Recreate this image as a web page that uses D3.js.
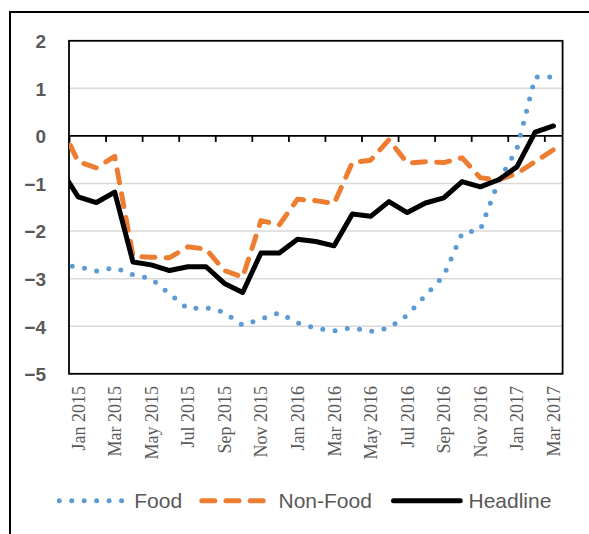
<!DOCTYPE html>
<html>
<head>
<meta charset="utf-8">
<script src="https://cdn.jsdelivr.net/npm/d3@7"></script>
<style>
  html, body { margin: 0; padding: 0; background: #fff; }
  svg { display: block; }
</style>
</head>
<body>
<svg id="chart" width="589" height="534"></svg>
<script>
// Monthly price change (%), Dec 2014 – Mar 2017
const months = [
  "Dec 2014",
  "Jan 2015", "Feb 2015", "Mar 2015", "Apr 2015", "May 2015", "Jun 2015",
  "Jul 2015", "Aug 2015", "Sep 2015", "Oct 2015", "Nov 2015", "Dec 2015",
  "Jan 2016", "Feb 2016", "Mar 2016", "Apr 2016", "May 2016", "Jun 2016",
  "Jul 2016", "Aug 2016", "Sep 2016", "Oct 2016", "Nov 2016", "Dec 2016",
  "Jan 2017", "Feb 2017", "Mar 2017"
];

const food = [
  -2.71,
  -2.75, -2.84, -2.77, -2.92, -3.00, -3.32,
  -3.63, -3.61, -3.71, -3.98, -3.85, -3.72,
  -3.93, -4.04, -4.10, -4.03, -4.11, -4.04,
  -3.77, -3.35, -2.94, -2.05, -1.97, -0.95,
  -0.28, 1.24, 1.24
];

const nonFood = [
  0.26,
  -0.54, -0.67, -0.43, -2.53, -2.55, -2.56,
  -2.33, -2.38, -2.83, -2.97, -1.78, -1.87,
  -1.33, -1.36, -1.42, -0.56, -0.51, -0.08,
  -0.57, -0.54, -0.56, -0.46, -0.88, -0.92,
  -0.79, -0.54, -0.29
];

const headline = [
  -0.67,
  -1.28, -1.40, -1.18, -2.65, -2.71, -2.83,
  -2.75, -2.75, -3.10, -3.29, -2.46, -2.46,
  -2.17, -2.22, -2.31, -1.64, -1.69, -1.38,
  -1.61, -1.41, -1.30, -0.96, -1.07, -0.92,
  -0.65, 0.08, 0.21
];

const yTicks = [2, 1, 0, -1, -2, -3, -4, -5];
const legendLabels = ["Food", "Non-Food", "Headline"];

// ---- layout ----
const W = 589, H = 534;
const plot = { left: 69, right: 562.6, top: 40.8, bottom: 373.8 };
const firstShown = 1;                       // Jan 2015 is the first month on the axis
const nShown = months.length - firstShown;  // 27 months

const svg = d3.select("#chart");

// outer frame of the chart object
svg.append("rect")
  .attr("x", 10).attr("y", 12)
  .attr("width", 600).attr("height", 540)
  .attr("fill", "#fff")
  .attr("stroke", "#000").attr("stroke-width", 2);

// x: month index, each month centred in its own slot
const x = d3.scaleLinear()
  .domain([firstShown - 0.5, months.length - 0.5])
  .range([plot.left, plot.right]);

const y = d3.scaleLinear()
  .domain([-5, 2])
  .range([plot.bottom, plot.top]);

// gridlines
svg.append("g")
  .selectAll("line")
  .data(yTicks.filter(v => v !== 2 && v !== -5 && v !== 0))
  .join("line")
  .attr("x1", plot.left).attr("x2", plot.right)
  .attr("y1", d => y(d)).attr("y2", d => y(d))
  .attr("stroke", "#d9d9d9").attr("stroke-width", 1.5);

// y axis labels
const yAxis = d3.axisLeft(y)
  .tickValues(yTicks)
  .tickSize(0)
  .tickPadding(0)
  .tickFormat(d3.format("d"));

const gy = svg.append("g")
  .attr("transform", `translate(${plot.left - 23},0)`)
  .call(yAxis);
gy.select(".domain").remove();
gy.selectAll("text")
  .attr("x", 0)
  .attr("dy", "0.36em")
  .attr("fill", "#595959")
  .style("font-family", "'Liberation Sans', Arial, sans-serif")
  .style("font-weight", "bold")
  .style("font-size", "19px");

// category axis on the zero line: tick marks every two months
const boundaryTicks = d3.range(firstShown - 0.5, months.length - 0.5, 2);
const xAxis = d3.axisBottom(x)
  .tickValues(boundaryTicks)
  .tickSize(6)
  .tickFormat("");
const gx = svg.append("g")
  .attr("transform", `translate(0,${y(0)})`)
  .call(xAxis);
gx.select(".domain")
  .attr("stroke", "#000").attr("stroke-width", 1.8)
  .attr("d", `M${plot.left},0H${plot.right}`);
gx.selectAll(".tick line").attr("stroke", "#000").attr("stroke-width", 1.8);

// month labels every other month, rotated
const labelIdx = d3.range(firstShown, months.length, 2);
svg.append("g")
  .selectAll("text")
  .data(labelIdx)
  .join("text")
  .attr("transform", i => `translate(${x(i) + 6.5},386) rotate(-90)`)
  .attr("text-anchor", "end")
  .attr("fill", "#595959")
  .style("font-family", "'Liberation Serif', 'Times New Roman', serif")
  .style("font-size", "18px")
  .text(i => months[i]);

// plot frame
svg.append("rect")
  .attr("x", plot.left).attr("y", plot.top)
  .attr("width", plot.right - plot.left)
  .attr("height", plot.bottom - plot.top)
  .attr("fill", "none")
  .attr("stroke", "#000").attr("stroke-width", 1.8);

// series lines, clipped to the plot area
svg.append("clipPath").attr("id", "plot-clip")
  .append("rect")
  .attr("x", plot.left).attr("y", plot.top - 10)
  .attr("width", plot.right - plot.left)
  .attr("height", plot.bottom - plot.top + 10);

const line = d3.line()
  .x((d, i) => x(i))
  .y(d => y(d));

const series = [
  { name: legendLabels[0], values: food, color: "#5b9bd5", width: 5, dash: "0,12.45" },
  { name: legendLabels[1], values: nonFood, color: "#ed7d31", width: 5, dash: "13,11.2" },
  { name: legendLabels[2], values: headline, color: "#000000", width: 5, dash: null }
];

const gLines = svg.append("g").attr("clip-path", "url(#plot-clip)");
series.forEach(s => {
  gLines.append("path")
    .datum(s.values)
    .attr("d", line)
    .attr("fill", "none")
    .attr("stroke", s.color)
    .attr("stroke-width", s.width)
    .attr("stroke-linecap", "round")
    .attr("stroke-linejoin", "round")
    .attr("stroke-dasharray", s.dash);
});

// legend
const legendY = 500.7;
const legendItems = [
  { s: series[0], x1: 59.3, x2: 121.8, tx: 134.3 },
  { s: series[1], x1: 201.8, x2: 263.5, tx: 278.5 },
  { s: series[2], x1: 393.5, x2: 460.2, tx: 468.5 }
];
const gLeg = svg.append("g");
legendItems.forEach(it => {
  gLeg.append("line")
    .attr("x1", it.x1).attr("x2", it.x2)
    .attr("y1", legendY).attr("y2", legendY)
    .attr("stroke", it.s.color)
    .attr("stroke-width", it.s.width)
    .attr("stroke-linecap", "round")
    .attr("stroke-dasharray", it.s.dash);
  gLeg.append("text")
    .attr("x", it.tx).attr("y", legendY)
    .attr("dy", "0.36em")
    .attr("fill", "#595959")
    .style("font-family", "'Liberation Sans', Arial, sans-serif")
    .style("font-size", "21px")
    .text(it.s.name);
});
</script>
</body>
</html>
